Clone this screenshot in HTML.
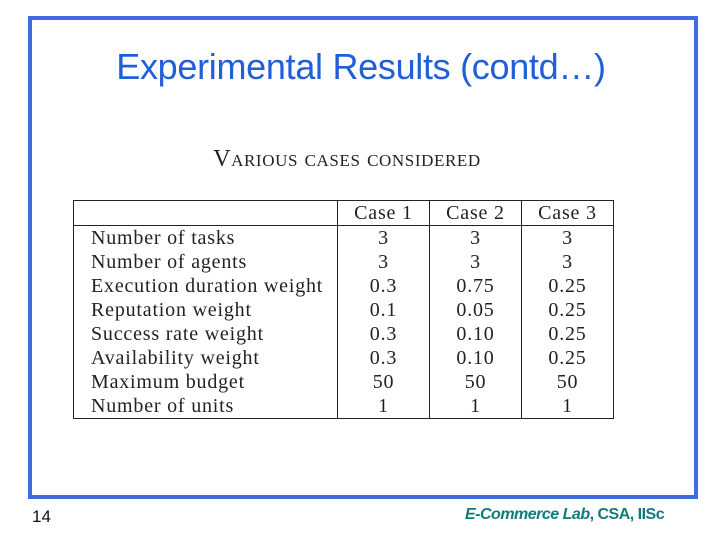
<!DOCTYPE html>
<html><head><meta charset="utf-8"><style>
body{margin:0;width:720px;height:540px;background:#fff;position:relative;overflow:hidden;font-family:"Liberation Sans",sans-serif}
.frame{position:absolute;left:28px;top:16px;width:662px;height:475px;border:4px solid #4169e1}
.title{position:absolute;left:0;width:722px;top:46px;text-align:center;font-size:36px;color:#1f5fd8;letter-spacing:-0.3px}
.cap{position:absolute;left:0;width:694px;top:146px;text-align:center;font-family:"Liberation Serif",serif;font-size:24px;color:#222;font-variant:small-caps;letter-spacing:0.6px}
table{position:absolute;left:73px;top:200px;border-collapse:collapse;font-family:"Liberation Serif",serif;font-size:20px;color:#222;letter-spacing:0.8px}
td,th{padding:0;height:24px;line-height:23px;font-weight:normal}
th{border-bottom:1.5px solid #222}
.c{text-align:center;width:91px;border-left:1.5px solid #222}
.l{width:246px;padding-left:17px;text-align:left}
table{border:1.5px solid #222}
.num{position:absolute;left:32px;top:507px;font-size:17px;color:#111}
.foot{position:absolute;left:465px;top:506px;font-size:16px;color:#127a78;font-weight:bold;letter-spacing:-0.5px}
</style></head><body>
<div class="frame"></div>
<div class="title">Experimental Results (contd…)</div>
<div class="cap">Various cases considered</div>
<table>
<tr><th class="l"></th><th class="c">Case 1</th><th class="c">Case 2</th><th class="c">Case 3</th></tr>
<tr><td class="l">Number of tasks</td><td class="c">3</td><td class="c">3</td><td class="c">3</td></tr>
<tr><td class="l">Number of agents</td><td class="c">3</td><td class="c">3</td><td class="c">3</td></tr>
<tr><td class="l">Execution duration weight</td><td class="c">0.3</td><td class="c">0.75</td><td class="c">0.25</td></tr>
<tr><td class="l">Reputation weight</td><td class="c">0.1</td><td class="c">0.05</td><td class="c">0.25</td></tr>
<tr><td class="l">Success rate weight</td><td class="c">0.3</td><td class="c">0.10</td><td class="c">0.25</td></tr>
<tr><td class="l">Availability weight</td><td class="c">0.3</td><td class="c">0.10</td><td class="c">0.25</td></tr>
<tr><td class="l">Maximum budget</td><td class="c">50</td><td class="c">50</td><td class="c">50</td></tr>
<tr><td class="l">Number of units</td><td class="c">1</td><td class="c">1</td><td class="c">1</td></tr>
</table>
<div class="num">14</div>
<div class="foot"><i>E-Commerce Lab</i>, CSA, IISc</div>
</body></html>
